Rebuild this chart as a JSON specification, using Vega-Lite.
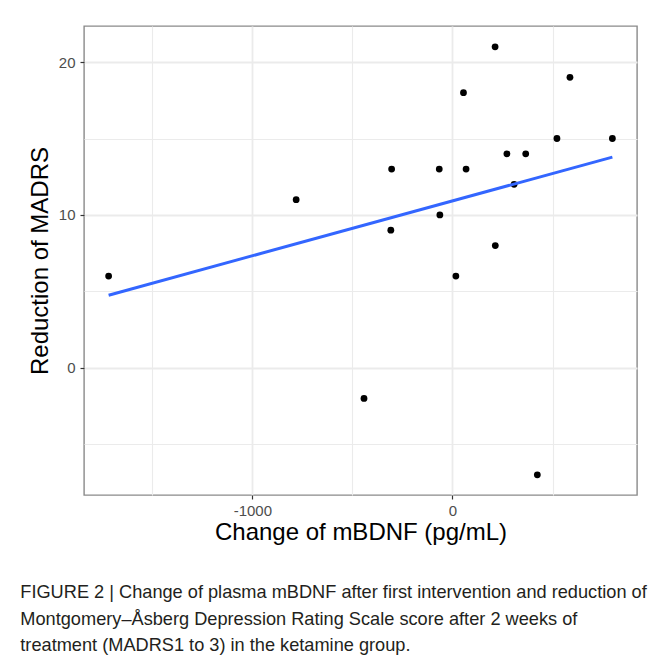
{
  "$schema": "https://vega.github.io/schema/vega-lite/v6.json",
  "width": 553,
  "height": 469,
  "autosize": {"type": "none"},
  "padding": {"left": 84, "top": 26, "right": 23, "bottom": 169},
  "background": "white",
  "config": {
    "font": "Liberation Sans",
    "view": {"stroke": "#8a8a8a", "strokeWidth": 1.4}
  },
  "title": {
    "text": [
      "FIGURE 2 | Change of plasma mBDNF after first intervention and reduction of",
      "Montgomery–Åsberg Depression Rating Scale score after 2 weeks of",
      "treatment (MADRS1 to 3) in the ketamine group."
    ],
    "orient": "bottom",
    "anchor": "start",
    "frame": "bounds",
    "font": "Liberation Sans",
    "fontSize": 18.2,
    "fontWeight": "normal",
    "color": "#231f20",
    "lineHeight": 26.5,
    "offset": 40,
    "dx": -8
  },
  "data": {
    "values": [
      {"mbdnf": 213, "madrs": 21},
      {"mbdnf": 587, "madrs": 19},
      {"mbdnf": 55, "madrs": 18},
      {"mbdnf": 522, "madrs": 15},
      {"mbdnf": 799, "madrs": 15},
      {"mbdnf": 272, "madrs": 14},
      {"mbdnf": 366, "madrs": 14},
      {"mbdnf": -304, "madrs": 13},
      {"mbdnf": -66, "madrs": 13},
      {"mbdnf": 68, "madrs": 13},
      {"mbdnf": 308, "madrs": 12},
      {"mbdnf": -781, "madrs": 11},
      {"mbdnf": -1718, "madrs": 6},
      {"mbdnf": -308, "madrs": 9},
      {"mbdnf": -63, "madrs": 10},
      {"mbdnf": 17, "madrs": 6},
      {"mbdnf": 214, "madrs": 8},
      {"mbdnf": -442, "madrs": -2},
      {"mbdnf": 424, "madrs": -7}
    ]
  },
  "layer": [
    {
      "mark": {"type": "circle", "color": "black", "size": 46, "opacity": 1},
      "encoding": {
        "x": {
          "field": "mbdnf",
          "type": "quantitative",
          "scale": {"domain": [-1841, 922], "nice": false, "zero": false},
          "axis": {
            "values": [-1500, -1000, -500, 0, 500],
            "title": "Change of mBDNF (pg/mL)",
            "titleFontSize": 24,
            "titleFontWeight": "normal",
            "titleColor": "black",
            "titlePadding": 2,
            "labelFontSize": 15,
            "labelColor": "#4d4d4d",
            "labelPadding": 4,
            "labelFlush": false,
            "labelOverlap": false,
            "labelExpr": "datum.value % 1000 === 0 ? '' + datum.value : ''",
            "domain": false,
            "tickColor": "#333333",
            "tickSize": 4,
            "tickWidth": 1.2,
            "tickOpacity": {"condition": {"test": "datum.value % 1000 === 0", "value": 1}, "value": 0},
            "grid": true,
            "gridColor": "#ebebeb",
            "gridWidth": {"condition": {"test": "datum.value % 1000 === 0", "value": 1.8}, "value": 1.1}
          }
        },
        "y": {
          "field": "madrs",
          "type": "quantitative",
          "scale": {"domain": [-8.32, 22.36], "nice": false, "zero": false},
          "axis": {
            "values": [-5, 0, 5, 10, 15, 20],
            "title": "Reduction of MADRS",
            "titleFontSize": 24,
            "titleFontWeight": "normal",
            "titleColor": "black",
            "titlePadding": 6,
            "labelFontSize": 15,
            "labelColor": "#4d4d4d",
            "labelPadding": 5,
            "labelFlush": false,
            "labelOverlap": false,
            "labelExpr": "datum.value % 10 === 0 ? '' + datum.value : ''",
            "domain": false,
            "tickColor": "#333333",
            "tickSize": 4,
            "tickWidth": 1.2,
            "tickOpacity": {"condition": {"test": "datum.value % 10 === 0", "value": 1}, "value": 0},
            "grid": true,
            "gridColor": "#ebebeb",
            "gridWidth": {"condition": {"test": "datum.value % 10 === 0", "value": 1.8}, "value": 1.1}
          }
        }
      }
    },
    {
      "transform": [{"regression": "madrs", "on": "mbdnf"}],
      "mark": {"type": "line", "color": "#3366ff", "strokeWidth": 3},
      "encoding": {
        "x": {"field": "mbdnf", "type": "quantitative"},
        "y": {"field": "madrs", "type": "quantitative"}
      }
    }
  ]
}
